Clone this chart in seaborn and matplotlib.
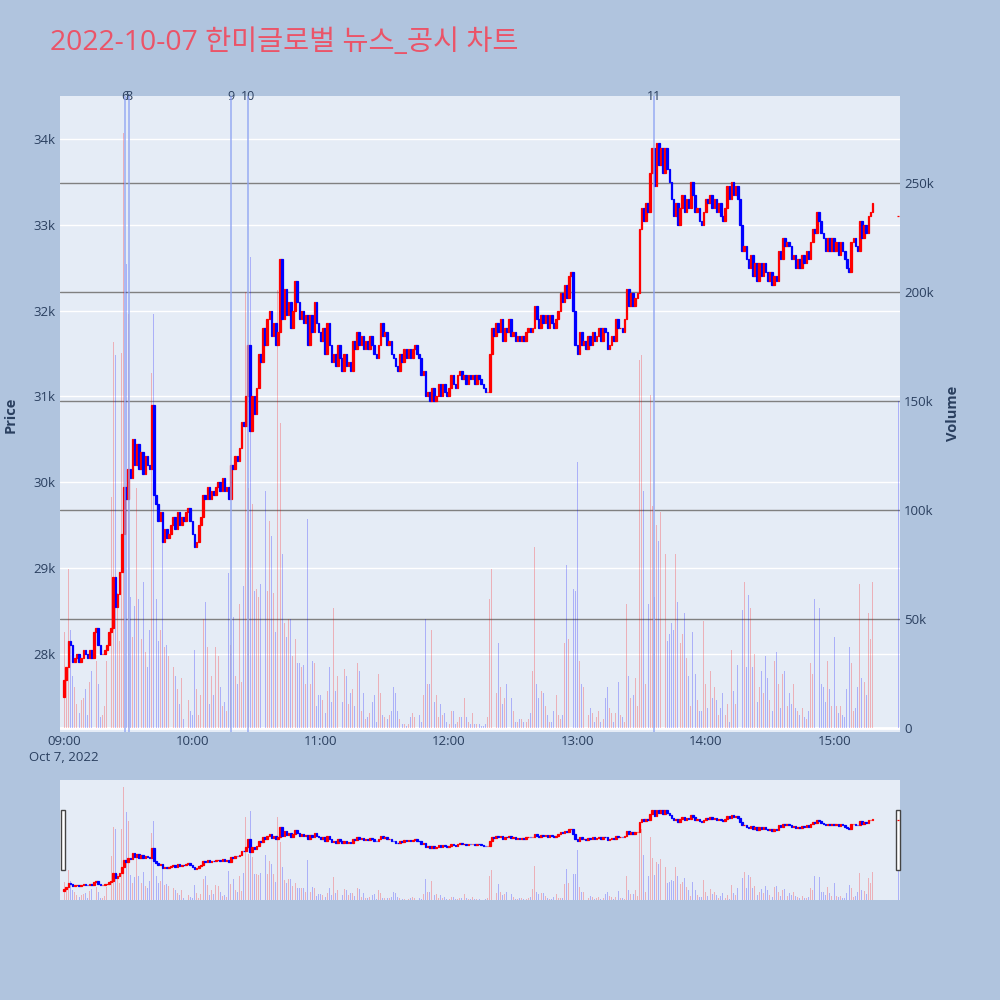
import numpy as np
import pandas as pd
import matplotlib
matplotlib.use('Agg')
import matplotlib.pyplot as plt
import matplotlib.transforms as mtransforms
from matplotlib.patches import Rectangle
import seaborn as sns

# 데이터 (그림에서 읽은 1분봉 종가, 거래량)
title = '2022-10-07 한미글로벌 뉴스_공시 차트'
trade_date = '2022-10-07'
first_open = 27500

closes = [
    # 09:00
    27700, 27850, 28150, 28100, 27900, 27950, 28000, 27900, 27950, 28050,
    28000, 27950, 28050, 27950, 28250, 28300, 28100, 28000, 28000, 28050,
    28100, 28250, 28300, 28900, 28550, 28700, 28950, 29400, 29950, 29800,
    30150, 30050, 30500, 30200, 30450, 30150, 30350, 30100, 30300, 30200,
    30150, 30900, 29850, 29750, 29550, 29650, 29300, 29450, 29350, 29400,
    29500, 29600, 29450, 29650, 29500, 29600, 29550, 29650, 29700, 29550,
    # 10:00
    29400, 29250, 29300, 29500, 29600, 29850, 29800, 29950, 29800, 29900,
    29850, 29950, 30000, 29900, 30050, 29900, 29950, 29800, 30200, 30150,
    30300, 30250, 30400, 30700, 30650, 31000, 31600, 30600, 31000, 30800,
    31100, 31500, 31400, 31800, 31600, 31900, 32000, 31700, 31850, 31600,
    31750, 32600, 31900, 32250, 31950, 32100, 31800, 32000, 32350, 32100,
    31900, 32000, 31850, 31950, 31600, 31950, 31750, 32100, 31850, 31750,
    # 11:00
    31650, 31800, 31500, 31850, 31600, 31400, 31500, 31350, 31600, 31450,
    31300, 31500, 31350, 31400, 31300, 31650, 31550, 31750, 31600, 31700,
    31550, 31650, 31550, 31700, 31600, 31500, 31450, 31600, 31850, 31700,
    31750, 31600, 31650, 31500, 31450, 31350, 31300, 31500, 31400, 31550,
    31450, 31550, 31450, 31550, 31600, 31500, 31450, 31250, 31300, 31000,
    31050, 30950, 31100, 30950, 31000, 31150, 31000, 31150, 31050, 31000,
    # 12:00
    31100, 31250, 31150, 31100, 31250, 31300, 31200, 31250, 31150, 31250,
    31200, 31250, 31150, 31250, 31200, 31150, 31100, 31050, 31050, 31500,
    31800, 31700, 31850, 31750, 31900, 31650, 31800, 31750, 31900, 31700,
    31750, 31650, 31700, 31650, 31700, 31650, 31750, 31800, 31750, 31800,
    32050, 31900, 31800, 31950, 31850, 31950, 31800, 31950, 31850, 31800,
    31900, 32000, 32200, 32100, 32300, 32150, 32400, 32450, 32000, 31600,
    # 13:00
    31500, 31750, 31600, 31650, 31550, 31700, 31600, 31750, 31650, 31700,
    31800, 31650, 31800, 31750, 31550, 31600, 31700, 31650, 31900, 31800,
    31800, 31750, 31900, 32250, 32050, 32200, 32050, 32150, 32200, 32950,
    33200, 33050, 33250, 33150, 33600, 33900, 33450, 33950, 33700, 33900,
    33600, 33900, 33650, 33500, 33300, 33100, 33250, 33000, 33200, 33350,
    33150, 33300, 33200, 33500, 33350, 33150, 33200, 33050, 33000, 33150,
    # 14:00
    33300, 33250, 33350, 33200, 33300, 33150, 33250, 33100, 33050, 33200,
    33450, 33300, 33500, 33350, 33450, 33300, 33000, 32700, 32750, 32600,
    32500, 32650, 32400, 32550, 32350, 32550, 32400, 32550, 32450, 32350,
    32450, 32300, 32400, 32350, 32700, 32600, 32850, 32750, 32800, 32750,
    32600, 32650, 32500, 32600, 32500, 32650, 32550, 32700, 32600, 32800,
    32950, 32900, 33150, 33050, 32900, 32850, 32700, 32850, 32700, 32850,
    # 15:00
    32700, 32800, 32650, 32800, 32700, 32600, 32500, 32450, 32800, 32850,
    32750, 32700, 33050, 32850, 33000, 32900, 33100, 33150, 33250,
]

# 거래량 (천 주)
volumes_k = [
    44, 24, 73, 45, 24, 19, 11, 7, 13, 14,
    18, 6, 21, 26, 25, 31, 20, 5, 6, 10,
    31, 16, 106, 177, 171, 62, 40, 172, 273, 213,
    190, 60, 42, 56, 110, 59, 41, 67, 35, 28,
    45, 163, 190, 59, 40, 45, 85, 37, 38, 33,
    31, 28, 24, 18, 11, 23, 4, 11, 13, 8,
    6, 36, 18, 6, 15, 50, 58, 37, 11, 24,
    15, 37, 33, 19, 10, 12, 8, 71, 38, 51,
    24, 20, 57, 21, 65, 200, 110, 216, 103, 63,
    64, 60, 66, 111, 109, 63, 95, 88, 62, 44,
    201, 140, 80, 48, 42, 50, 50, 33, 41, 30,
    30, 28, 29, 20, 96, 20, 31, 30, 10, 15,
    15, 13, 7, 17, 28, 12, 55, 17, 24, 19,
    12, 27, 24, 11, 16, 18, 10, 30, 26, 8,
    16, 4, 5, 7, 12, 15, 3, 25, 16, 6,
    5, 4, 6, 8, 19, 16, 8, 4, 2, 2,
    1, 2, 5, 7, 5, 2, 6, 3, 15, 50,
    20, 20, 45, 12, 15, 5, 11, 6, 7, 3,
    2, 8, 8, 2, 3, 5, 5, 14, 5, 3,
    2, 7, 2, 2, 2, 1, 1, 2, 5, 59,
    73, 51, 16, 39, 19, 11, 14, 20, 13, 14,
    8, 3, 3, 4, 4, 3, 3, 4, 7, 26,
    83, 20, 14, 17, 16, 10, 6, 3, 3, 8,
    15, 6, 4, 6, 39, 75, 41, 20, 64, 63,
    122, 31, 20, 19, 16, 6, 9, 7, 3, 5,
    8, 3, 4, 14, 19, 9, 7, 3, 7, 21,
    6, 5, 3, 57, 24, 14, 15, 23, 10, 169,
    171, 109, 20, 57, 153, 102, 60, 93, 86, 99,
    49, 80, 40, 43, 48, 45, 80, 58, 39, 43,
    53, 32, 24, 10, 44, 25, 13, 8, 8, 49,
    20, 9, 26, 14, 19, 13, 6, 9, 16, 6,
    11, 3, 36, 17, 11, 29, 110, 54, 67, 28,
    61, 55, 28, 34, 12, 19, 26, 16, 33, 23,
    13, 8, 31, 35, 20, 9, 25, 26, 10, 16,
    11, 20, 9, 8, 6, 9, 5, 4, 8, 30,
    25, 59, 24, 55, 20, 19, 12, 31, 18, 10,
    42, 10, 7, 10, 6, 5, 18, 37, 30, 8,
    9, 19, 66, 23, 21, 15, 53, 41, 67,
]

# 동시호가 (15:30)
auction_time = '15:30'
auction_price = 33100
auction_volume_k = 150

# 뉴스/공시 시점
news_labels = ['6', '8', '9', '10', '11']
news_times = ['09:28:30', '09:30:30', '10:18', '10:26', '13:36']

price_ticks = [28000, 29000, 30000, 31000, 32000, 33000, 34000]
volume_ticks_k = [0, 50, 100, 150, 200, 250]
time_ticks = ['09:00', '10:00', '11:00', '12:00', '13:00', '14:00', '15:00']
date_label = 'Oct 7, 2022'

# 스타일
sns.set_theme(style='white')
plt.rcParams['font.family'] = ['Open Sans', 'Noto Sans CJK KR', 'DejaVu Sans']

PAPER = '#B0C4DE'
PLOT_BG = '#E5ECF6'
TEXT = '#2a3f5f'
UP, DOWN = '#FF0000', '#0000FF'
VOL_UP, VOL_DOWN = (1, 0, 0, 0.25), (0, 0, 1, 0.25)

# 데이터프레임 구성
t0 = pd.Timestamp(f'{trade_date} 09:00')
df = pd.DataFrame({
    'time': pd.date_range(t0, periods=len(closes), freq='min'),
    'close': closes,
    'volume': np.array(volumes_k) * 1000,
})
df['open'] = df['close'].shift(1).fillna(first_open)
auction = pd.DataFrame({
    'time': [pd.Timestamp(f'{trade_date} {auction_time}')],
    'close': [auction_price],
    'volume': [auction_volume_k * 1000],
    'open': [auction_price],
})
df = pd.concat([df, auction], ignore_index=True)
df['minute'] = (df['time'] - t0).dt.total_seconds() / 60
df['up'] = df['close'] >= df['open']
df['vol_up'] = df['close'] >= df['close'].shift(1).fillna(first_open)


def to_minute(hhmm):
    return (pd.Timestamp(f'{trade_date} {hhmm}') - t0).total_seconds() / 60


XLIM = (-1.9, 390.8)


def draw_chart(ax_v, ax_p):
    vcol = [VOL_UP if u else VOL_DOWN for u in df['vol_up']]
    ax_v.bar(df['minute'], df['volume'], width=0.45, color=vcol,
             linewidth=0, zorder=2)
    ccol = [UP if u else DOWN for u in df['up']]
    lo = df[['open', 'close']].min(axis=1)
    hi = df[['open', 'close']].max(axis=1)
    ax_p.bar(df['minute'], hi - lo, bottom=lo, width=0.75, color=ccol,
             edgecolor=ccol, linewidth=0.9, zorder=3)
    ax_v.set_xlim(*XLIM)
    for a in (ax_v, ax_p):
        for s in a.spines.values():
            s.set_visible(False)


fig = plt.figure(figsize=(10, 10), dpi=100, facecolor=PAPER)

# 메인 차트
ax_v = fig.add_axes([0.06, 0.268, 0.84, 0.636])
ax_v.set_facecolor(PLOT_BG)
ax_p = ax_v.twinx()
ax_p.patch.set_visible(False)
draw_chart(ax_v, ax_p)

ax_p.set_ylim(27089, 34501)
ax_v.set_ylim(-1800, 290000)

# 그리드 (가격: 흰색, 거래량: 회색)
price_tr = mtransforms.blended_transform_factory(ax_v.transAxes, ax_p.transData)
for p in price_ticks:
    ax_v.plot([0, 1], [p, p], transform=price_tr, color='white', lw=1.0, zorder=1)
for v in volume_ticks_k[1:]:
    ax_v.axhline(v * 1000, color='#808080', lw=1.0, zorder=1.5)
ax_v.axhline(0, color='white', lw=2.0, zorder=1.5)

# 축 눈금
ax_p.yaxis.tick_left()
ax_v.yaxis.tick_right()
ax_p.set_yticks(price_ticks)
ax_p.set_yticklabels([f'{p // 1000}k' for p in price_ticks])
ax_v.set_yticks([v * 1000 for v in volume_ticks_k])
ax_v.set_yticklabels(['0' if v == 0 else f'{v}k' for v in volume_ticks_k])
ax_v.set_xticks([to_minute(t) for t in time_ticks])
ax_v.set_xticklabels([f'{t}\n{date_label}' if i == 0 else t
                      for i, t in enumerate(time_ticks)], linespacing=1.35)
for a in (ax_v, ax_p):
    a.tick_params(length=0, labelsize=9.5, labelcolor=TEXT, pad=3)
ax_v.tick_params(axis='x', pad=2)
ax_v.grid(False)
ax_p.grid(False)

# 뉴스 라인
for lab, t in zip(news_labels, news_times):
    m = to_minute(t)
    ax_p.axvline(m, color='#8ea3f2', alpha=0.7, lw=1.4, zorder=4)
    ax_p.text(m, 1.0, lab, transform=ax_p.get_xaxis_transform(), ha='center',
              va='center', fontsize=9, color=TEXT)

fig.text(0.011, 0.585, 'Price', rotation=90, ha='center', va='center',
         fontsize=10.5, fontweight='bold', color=TEXT)
fig.text(0.953, 0.587, 'Volume', rotation=90, ha='center', va='center',
         fontsize=10.5, fontweight='bold', color=TEXT)
fig.text(0.05, 0.957, title, ha='left', va='center', fontsize=20.4,
         color='#EB5468')

# 레인지 슬라이더
axs_v = fig.add_axes([0.06, 0.10, 0.84, 0.12])
axs_v.set_facecolor(PLOT_BG)
axs_p = axs_v.twinx()
axs_p.patch.set_visible(False)
draw_chart(axs_v, axs_p)
axs_p.set_ylim(26800, 36300)
axs_v.set_ylim(0, 290000)
for a in (axs_v, axs_p):
    a.set_xticks([])
    a.set_yticks([])
    a.grid(False)
for hx in (0.0015, 0.9955):
    axs_v.add_patch(Rectangle((hx, 0.25), 0.005, 0.5, transform=axs_v.transAxes,
                              facecolor='white', edgecolor='#444444', lw=1.0,
                              clip_on=False, zorder=6))

fig.savefig('out.png', dpi=100, facecolor=PAPER)
